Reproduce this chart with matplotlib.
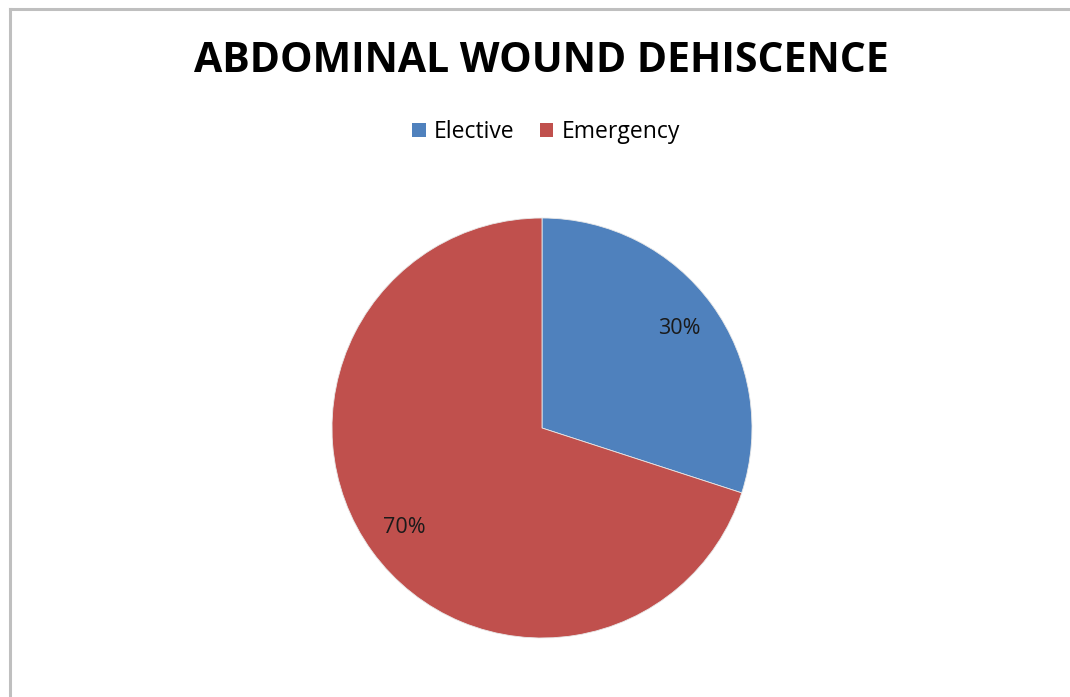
import matplotlib.pyplot as plt
from matplotlib.lines import Line2D
from matplotlib.patches import Patch

labels = ["Elective", "Emergency"]
values = [30, 70]
colors = ["#4F81BD", "#C0504D"]

plt.rcParams['font.family'] = ['Open Sans', 'DejaVu Sans']

fig = plt.figure(figsize=(10.7, 6.97), dpi=100)

# chart border (left and top visible)
fig.add_artist(Line2D([9.5 / 1070, 9.5 / 1070], [0, 1 - 8.5 / 697], color="#BFBFBF", lw=2.2))
fig.add_artist(Line2D([9.5 / 1070, 1], [1 - 8.5 / 697, 1 - 8.5 / 697], color="#BFBFBF", lw=2.2))

ax = fig.add_axes([332 / 1070, 59 / 697, 420 / 1070, 420 / 697])
wedges, texts, autotexts = ax.pie(
    values, colors=colors, startangle=90, counterclock=False,
    autopct="%d%%", pctdistance=0.81,
    wedgeprops=dict(edgecolor="#E8E8E8", linewidth=0.6),
    textprops=dict(fontsize=15.5, color="#1A1A1A"))
ax.set_xlim(-1, 1)
ax.set_ylim(-1, 1)
ax.set_aspect("equal")

fig.text(541 / 1070, 1 - 61 / 697, "ABDOMINAL WOUND DEHISCENCE",
         ha="center", va="center", fontsize=29.5, fontweight="bold", color="black")

handles = [Patch(facecolor=c, edgecolor="none") for c in colors]
fig.legend(handles, labels, loc="center", bbox_to_anchor=(546 / 1070, 1 - 132 / 697),
           ncol=2, frameon=False, fontsize=16.5, handlelength=0.6, handleheight=0.6,
           handletextpad=0.35, columnspacing=1.1)

fig.savefig("out.png", dpi=100, facecolor="white")
